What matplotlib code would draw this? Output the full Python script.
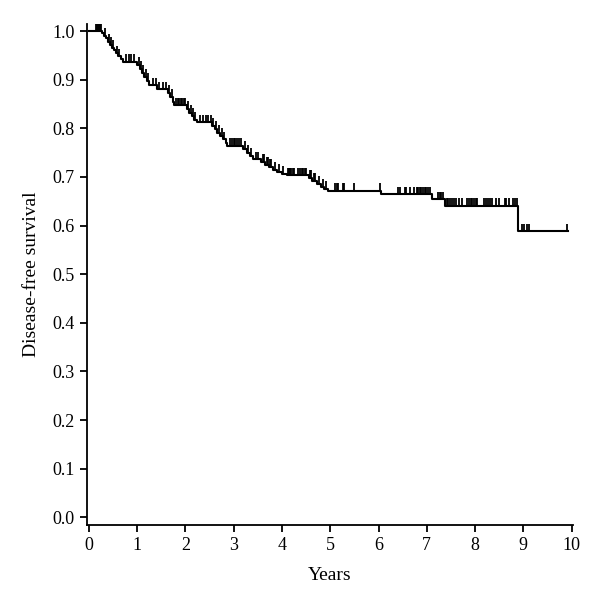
import numpy as np
import matplotlib
matplotlib.use("Agg")
import matplotlib.pyplot as plt

#### data

## event times (years) and survival right after each step
event_times = [0.27, 0.31, 0.35, 0.39, 0.43, 0.47, 0.52, 0.56, 0.61, 0.66, 0.70,
               1.00, 1.05, 1.10, 1.15, 1.20, 1.25, 1.42,
               1.64, 1.69, 1.74, 1.77,
               2.03, 2.08, 2.13, 2.18, 2.23,
               2.56, 2.61, 2.66, 2.72, 2.78, 2.83, 2.87,
               3.20, 3.27, 3.33, 3.39,
               3.57, 3.65, 3.73, 3.81, 3.90, 4.00, 4.10,
               4.55, 4.63, 4.72, 4.80, 4.88, 4.95,
               6.05, 7.10, 7.37, 8.90]
survival = [0.995, 0.990, 0.985, 0.978, 0.972, 0.966, 0.960, 0.954, 0.948, 0.942, 0.937,
            0.930, 0.922, 0.914, 0.905, 0.897, 0.888, 0.880,
            0.872, 0.864, 0.855, 0.847,
            0.840, 0.832, 0.825, 0.818, 0.812,
            0.805, 0.798, 0.791, 0.784, 0.777, 0.770, 0.764,
            0.757, 0.750, 0.743, 0.736,
            0.731, 0.725, 0.720, 0.715, 0.711, 0.707, 0.703,
            0.698, 0.692, 0.686, 0.680, 0.676, 0.672,
            0.664, 0.654, 0.641, 0.588]
end_time = 9.93

## censored observations
censor_times = [0.15, 0.17, 0.19, 0.21, 0.23, 0.25,
                0.33, 0.41, 0.45, 0.50, 0.58, 0.63,
                0.77, 0.82, 0.88, 0.94,
                1.03, 1.08, 1.13, 1.18, 1.22,
                1.32, 1.38, 1.46, 1.53, 1.59, 1.66, 1.72,
                1.80, 1.84, 1.87, 1.90, 1.93, 1.96, 1.99,
                2.06, 2.11, 2.16, 2.20,
                2.30, 2.37, 2.42, 2.47, 2.52,
                2.58, 2.64, 2.69, 2.75, 2.80,
                2.92, 2.96, 3.00, 3.03, 3.07, 3.11, 3.15,
                3.23, 3.30, 3.36, 3.46, 3.50,
                3.60, 3.62, 3.68, 3.70, 3.76, 3.78, 3.85, 3.94, 4.03,
                4.13, 4.15, 4.17, 4.19, 4.22, 4.25, 4.33, 4.38, 4.41, 4.44, 4.47, 4.50,
                4.58, 4.60, 4.67, 4.69, 4.76, 4.84, 4.92,
                5.10, 5.13, 5.16, 5.26, 5.29, 5.49, 6.04,
                6.40, 6.45, 6.54, 6.58, 6.65, 6.73, 6.79, 6.82, 6.85, 6.89,
                6.92, 6.96, 6.99, 7.03, 7.06,
                7.24, 7.27, 7.30, 7.33,
                7.42, 7.45, 7.49, 7.53, 7.56, 7.60, 7.66, 7.73, 7.84, 7.87,
                7.91, 7.94, 7.98, 8.02, 8.05, 8.19, 8.22, 8.26, 8.31, 8.35,
                8.43, 8.50, 8.62, 8.65, 8.70, 8.78, 8.83, 8.87,
                8.98, 9.02, 9.08, 9.12, 9.90]

#### plotting
plt.rcParams["font.family"] = ["Liberation Serif", "DejaVu Serif"]

fig = plt.figure(figsize=(6, 6.08), dpi=100)
ax = fig.add_axes([0.145, 0.137, 0.81, 0.824])

## step curve
t = np.concatenate([[0.0], event_times, [end_time]])
s = np.concatenate([[1.0], survival, [survival[-1]]])
ax.step(t, s, where="post", color="black", lw=1.5)

## censor ticks sit on the curve and point upward
idx = np.searchsorted(event_times, censor_times, side="right")
s_all = np.concatenate([[1.0], survival])
c_s = s_all[idx]
ax.vlines(censor_times, c_s, c_s + 0.016, color="black", lw=1.3)

ax.set_xlim(-0.04, 10.03)
ax.set_ylim(-0.015, 1.015)
ax.set_xticks(np.arange(0, 11, 1))
ax.set_yticks(np.arange(0, 1.01, 0.1))
ax.set_yticklabels([f"{v:.1f}" for v in np.arange(0, 1.01, 0.1)])

for side in ["top", "right"]:
    ax.spines[side].set_visible(False)
for side in ["left", "bottom"]:
    ax.spines[side].set_linewidth(1.3)
ax.tick_params(direction="out", length=5, width=1.3, labelsize=13, pad=4)

ax.set_xlabel("Years", fontsize=14, labelpad=9)
ax.set_ylabel("Disease-free survival", fontsize=14, labelpad=9)

plt.savefig("out.png", dpi=100)
